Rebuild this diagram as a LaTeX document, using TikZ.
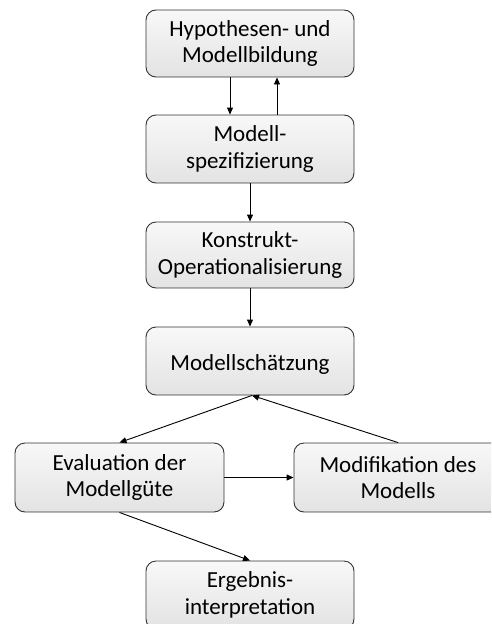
\documentclass[tikz,border=0pt]{standalone}
\usepackage{fontspec}
\setmainfont{Carlito}
\usetikzlibrary{arrows.meta}
\definecolor{boxtop}{HTML}{F8F8F8}
\definecolor{boxbot}{HTML}{E3E3E3}
\definecolor{boxline}{HTML}{333333}
\tikzset{
  stepbox/.style={draw=boxline, line width=0.9pt, rounded corners=10pt,
    top color=boxtop, bottom color=boxbot,
    minimum width=208pt, align=center, inner sep=0pt,
    font=\fontsize{23}{26.5}\selectfont,
    % taller first line lowers the text slightly inside the box
    execute at begin node={\rule{0pt}{22.5pt}}},
  flow/.style={line width=0.9pt, -{Triangle[length=7pt,width=6pt]}}
}
\begin{document}
\begin{tikzpicture}[x=1pt,y=-1pt]
  \useasboundingbox (0,0) rectangle (491,624);
  \clip (0,0) rectangle (491,624);
  % process steps
  \node[stepbox, minimum height=67pt] (hyp)  at (250,43.5) {Hypothesen- und\\Modellbildung};
  \node[stepbox, minimum height=68pt] (spez) at (250,149)  {Modell-\\spezifizierung};
  \node[stepbox, minimum height=66pt] (oper) at (250,255)  {Konstrukt-\\Operationalisierung};
  \node[stepbox, minimum height=68pt] (schaetz) at (250,361) {Modellschätzung};
  \node[stepbox, minimum height=69pt, minimum width=209pt] (eval) at (119.5,477.5) {Evaluation der\\Modellgüte};
  \node[stepbox, minimum height=69pt] (modif) at (398,477.5) {Modifikation des\\Modells};
  \node[stepbox, minimum height=68pt] (ergeb) at (250,595) {Ergebnis-\\interpretation};
  % connectors
  \draw[flow] (hyp.south -| 230,0) -- (spez.north -| 230,0);
  \draw[flow] (spez.north -| 277,0) -- (hyp.south -| 277,0);
  \draw[flow] (spez.south) -- (oper.north);
  \draw[flow] (oper.south) -- (schaetz.north);
  \draw[flow] (schaetz.south -| 252,0) -- (eval.north);
  \draw[flow] (modif.north) -- (schaetz.south -| 252,0);
  \draw[flow] (eval.east) -- (modif.west);
  \draw[flow] (eval.south) -- (ergeb.north);
\end{tikzpicture}
\end{document}
